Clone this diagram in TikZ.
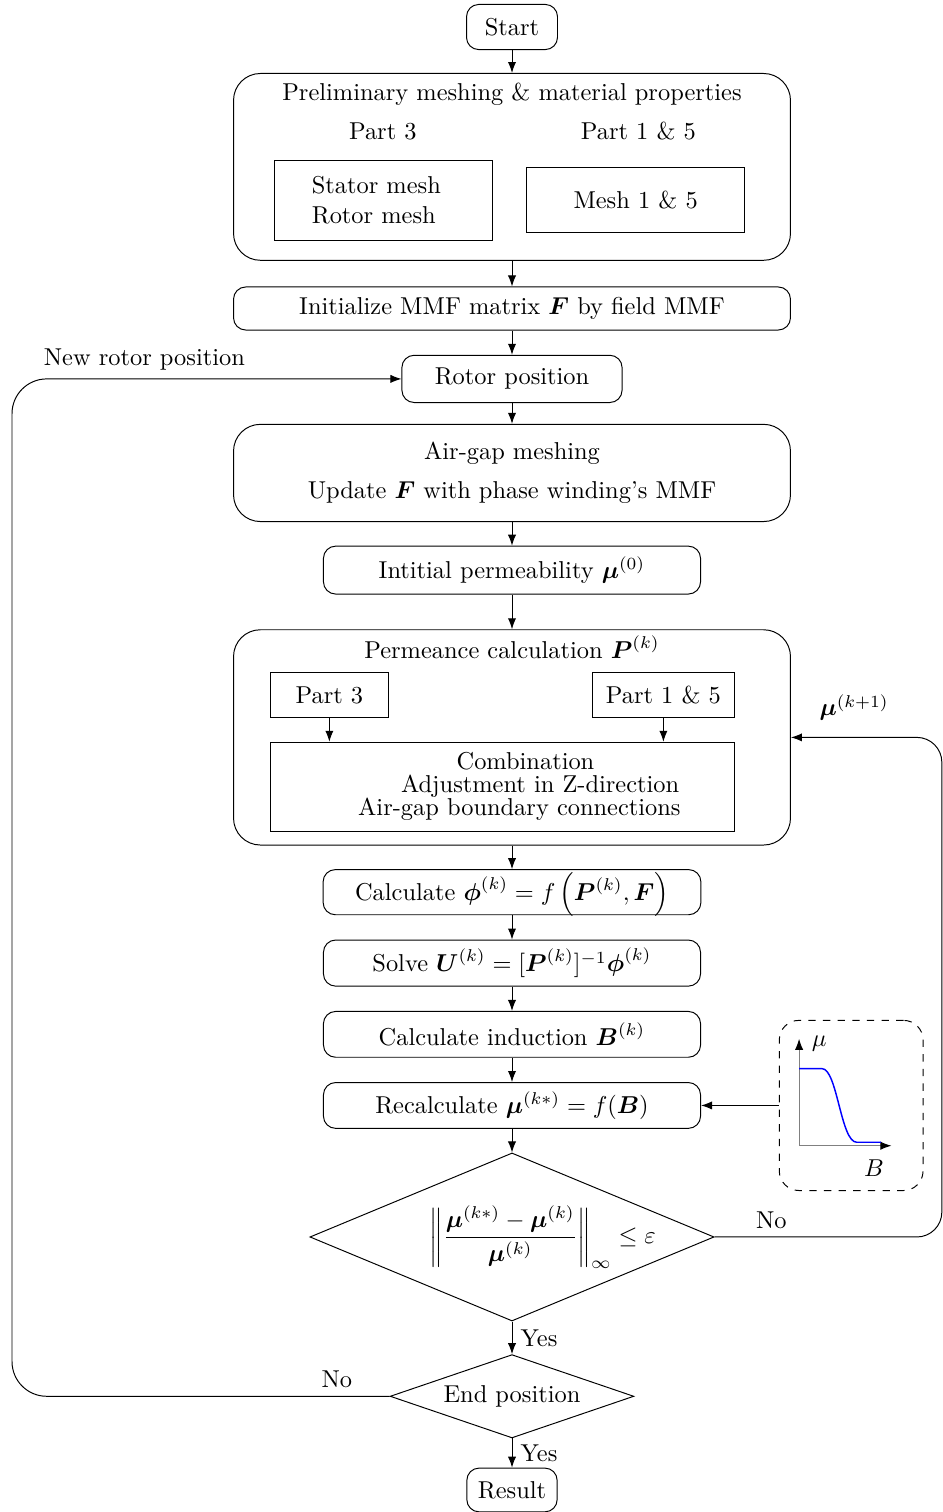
\documentclass[tikz,border=0pt]{standalone}
\usepackage{amsmath,amssymb}
\usepackage{tikz}
\usetikzlibrary{arrows.meta,positioning,shapes.geometric}

\begin{document}
\begin{tikzpicture}[
  proc/.style={draw, rounded corners=5pt, minimum width=5.43cm, minimum height=0.66cm},
  group/.style={draw, rounded corners=11pt, minimum width=8.02cm},
  sub/.style={draw, minimum height=0.66cm},
  decision/.style={draw, diamond, aspect=2.4, inner sep=0pt},
  flow/.style={-{Latex[length=4.5pt]}},
]
  \useasboundingbox (-7.373,0.389) rectangle (6.206,-21.384);

  % Define nodes
  \node[proc, minimum width=1.31cm, minimum height=0.65cm] (start) {Start};%
  \node[group, minimum height=2.69cm, below=0.33cm of start] (prelim) {};%
  \node (prelimtitle) at ([yshift=1.04cm]prelim.center) {Preliminary meshing \& material properties};%
  \node (part3lbl) at ([shift={(-1.86cm,0.51cm)}]prelim.center) {Part 3};%
  \node (part15lbl) at ([shift={(1.82cm,0.51cm)}]prelim.center) {Part 1 \& 5};%
  \node[draw, align=left, minimum width=3.14cm, minimum height=1.15cm] (statormesh) at ([shift={(-1.85cm,-0.48cm)}]prelim.center) {Stator mesh\\Rotor mesh\hspace*{8pt}};%
  \node[draw, minimum width=3.14cm, minimum height=0.94cm] (mesh15) at ([shift={(1.78cm,-0.48cm)}]prelim.center) {Mesh 1 \& 5};%

  \node[proc, minimum width=8.02cm, minimum height=0.62cm, below=0.37cm of prelim] (init) {Initialize MMF matrix $\boldsymbol{F}$ by field MMF};%
  \node[proc, minimum width=3.17cm, minimum height=0.68cm, below=0.35cm of init] (rotor) {Rotor position};%
  \node[group, minimum height=1.40cm, align=center, below=0.30cm of rotor] (airgap) {Air-gap meshing\\[4pt] Update $\boldsymbol{F}$ with phase winding's MMF};%
  \node[proc, minimum height=0.69cm, below=0.34cm of airgap] (mu0) {Intitial permeability $\boldsymbol{\mu}^{(0)}$};%

  \node[group, minimum height=3.10cm, below=0.50cm of mu0] (perm) {};%
  \node (permtitle) at ([yshift=1.30cm]perm.center) {Permeance calculation $\boldsymbol{P}^{(k)}$};%
  \node[sub, minimum width=1.70cm] (part3) at ([shift={(-2.63cm,0.61cm)}]perm.center) {Part 3};%
  \node[sub, minimum width=2.04cm] (part15) at ([shift={(2.18cm,0.61cm)}]perm.center) {Part 1 \& 5};%
  \node[draw, align=center, minimum width=6.68cm, minimum height=1.28cm] (comb) at ([shift={(-0.14cm,-0.71cm)}]perm.center) {\hspace*{19pt}Combination\\[-2.5pt] \hspace*{31pt}Adjustment in Z-direction\\[-2.5pt] \hspace*{14pt}Air-gap boundary connections};%

  \node[proc, minimum width=5.44cm, minimum height=0.65cm, text height=7.5pt, text depth=0.5pt, below=0.34cm of perm] (calcphi) {Calculate $\boldsymbol{\phi}^{(k)} = f\left(\boldsymbol{P}^{(k)}, \boldsymbol{F}\right)$};%
  \node[proc, below=0.35cm of calcphi] (solve) {Solve $\boldsymbol{U}^{(k)} = [\boldsymbol{P}^{(k)}]^{-1}\boldsymbol{\phi}^{(k)}$};%
  \node[proc, below=0.35cm of solve] (induct) {Calculate induction $\boldsymbol{B}^{(k)}$};%
  \node[proc, below=0.35cm of induct] (recalc) {Recalculate $\boldsymbol{\mu}^{(k*)} = f(\boldsymbol{B})$};%
  \node[decision, inner xsep=-8pt, minimum width=5.82cm, minimum height=2.42cm, below=0.34cm of recalc] (conv) {\hspace*{25pt}$\left\|\dfrac{\boldsymbol{\mu}^{(k*)}-\boldsymbol{\mu}^{(k)}}{\boldsymbol{\mu}^{(k)}}\right\|_\infty \le \varepsilon$};%
  \node[decision, aspect=2.9, minimum width=3.51cm, minimum height=1.20cm, below=0.47cm of conv] (endpos) {End position};%
  \node[proc, minimum width=1.30cm, minimum height=0.63cm, below=0.42cm of endpos] (result) {Result};%

  % B-H curve
  \node[draw, dashed, rounded corners=8pt, minimum width=2.07cm, minimum height=2.45cm, right=1.12cm of recalc] (bhcurve) {};%
  \begin{scope}[shift={(bhcurve.center)}]
    \draw[gray, -{Latex[color=black,length=4.5pt]}] (-0.75,-0.58) -- (-0.75,0.96);
    \draw[gray, -{Latex[color=black,length=4.5pt]}] (-0.75,-0.58) -- (0.58,-0.58);
    \draw[blue, semithick] (-0.75,0.53) -- (-0.42,0.53) .. controls (-0.2,0.53) and (-0.15,-0.53) .. (0.08,-0.53) -- (0.43,-0.53);
    \node (mulbl) at (-0.46,0.89) {$\mu$};
    \node (blbl) at (0.33,-0.91) {$B$};
  \end{scope}

  % Define edges
  \foreach \a/\b in {start/prelim, prelim/init, init/rotor, rotor/airgap, airgap/mu0, mu0/perm, perm/calcphi, calcphi/solve, solve/induct, induct/recalc, recalc/conv}
    \draw[flow] (\a) -- (\b);
  \draw[flow] (conv) -- node[right] (yes1) {Yes} (endpos);
  \draw[flow] (endpos) -- node[right] (yes2) {Yes} (result);
  \draw[flow] (part3) -- (part3 |- comb.north);
  \draw[flow] (part15) -- (part15 |- comb.north);
  \draw[flow] (bhcurve.west) -- (bhcurve.west -| recalc.east);

  % Iteration loops
  \coordinate (rightx) at (6.19,0);
  \coordinate (leftx) at (-7.2,0);
  \draw[flow, rounded corners=0.36cm] (conv.east) -- node[above, pos=0.25] (no1) {No} (conv.east -| rightx) |- (perm.east);
  \node (munext) at ([shift={(0.91cm,0.43cm)}]perm.east) {$\boldsymbol{\mu}^{(k+1)}$};
  \draw[flow, rounded corners=0.5cm] (endpos.west) -- node[above, pos=0.14] (no2) {No} (endpos.west -| leftx) |- node[above, pos=0.67] (newpos) {New rotor position} (rotor.west);
\end{tikzpicture}
\end{document}
